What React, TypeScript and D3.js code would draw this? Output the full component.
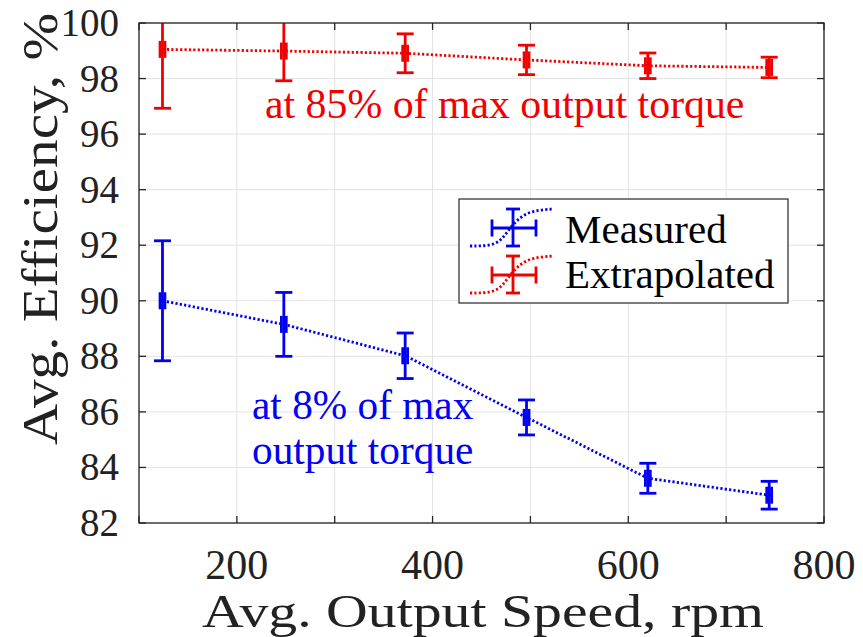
import React from "react";
import * as d3 from "d3";

const speeds = [124, 248, 372, 496, 620, 744];
const speedErr = [2.5, 2.5, 2.5, 2.5, 2.5, 2.5];
const measuredEff = [90.0, 89.15, 88.02, 85.8, 83.61, 83.0];
const measuredErr = [2.16, 1.15, 0.82, 0.63, 0.54, 0.5];
const extrapolatedEff = [99.05, 98.99, 98.91, 98.67, 98.46, 98.4];
const extrapolatedErr = [2.12, 1.07, 0.7, 0.53, 0.46, 0.37];
const xTicks = [100, 200, 300, 400, 500, 600, 700, 800];
const xTickLabels = [200, 400, 600, 800];
const yTicks = [82, 84, 86, 88, 90, 92, 94, 96, 98, 100];
const seriesNames = ["Measured", "Extrapolated"];

const W = 863, H = 637;
const L = 139, R = 824, T = 23, B = 523;
const BLUE = "#0000f5";
const RED = "#f20000";
const AX = "#262626";
const GRID = "#e3e3e3";
const FONT = "Liberation Serif";

function T2(props: any) {
  const { children, ...rest } = props;
  return (
    <text {...rest} style={{ fontFamily: FONT }}>
      {children}
    </text>
  );
}

export default function App() {
  const x = d3.scaleLinear().domain([100, 800]).range([L, R]);
  const y = d3.scaleLinear().domain([82, 100]).range([B, T]);
  const line = d3.line<number>().x((_, i) => x(speeds[i])).y((d) => y(d));

  const series = [
    { vals: measuredEff, err: measuredErr, color: BLUE },
    { vals: extrapolatedEff, err: extrapolatedErr, color: RED },
  ];
  const capW = 8.5;
  const hCapH = 8.5;
  const sw = 2.8;

  const legendIcon = (cx: number, cy: number, color: string) => {
    const curve = d3.line().curve(d3.curveBasis)([
      [cx - 43, cy + 18],
      [cx - 15, cy + 18],
      [cx - 5, cy + 2],
      [cx + 12, cy - 17],
      [cx + 40, cy - 19],
    ] as [number, number][]);
    return (
      <g>
        <path d={curve || ""} fill="none" stroke={color} strokeWidth={sw} strokeDasharray="2.2 2.2" />
        <line x1={cx} x2={cx} y1={cy - 19} y2={cy + 18} stroke={color} strokeWidth={sw} />
        <line x1={cx - 7} x2={cx + 7} y1={cy - 19} y2={cy - 19} stroke={color} strokeWidth={sw} />
        <line x1={cx - 7} x2={cx + 7} y1={cy + 18} y2={cy + 18} stroke={color} strokeWidth={sw} />
        <line x1={cx - 21} x2={cx + 23} y1={cy} y2={cy} stroke={color} strokeWidth={sw} />
        <line x1={cx - 21} x2={cx - 21} y1={cy - 8.5} y2={cy + 8.5} stroke={color} strokeWidth={sw} />
        <line x1={cx + 23} x2={cx + 23} y1={cy - 8.5} y2={cy + 8.5} stroke={color} strokeWidth={sw} />
      </g>
    );
  };

  return (
    <div style={{ position: "absolute", left: 0, top: 0, width: W, height: H, background: "#fff" }}>
      <svg width={W} height={H}>
        <defs>
          <clipPath id="plotClip">
            <rect x={L} y={T} width={R - L} height={B - T} />
          </clipPath>
        </defs>
        <rect x={0} y={0} width={W} height={H} fill="#fff" />
        {xTicks.map((t) => (
          <line key={"gx" + t} x1={x(t)} x2={x(t)} y1={T} y2={B} stroke={GRID} strokeWidth={1} />
        ))}
        {yTicks.map((t) => (
          <line key={"gy" + t} x1={L} x2={R} y1={y(t)} y2={y(t)} stroke={GRID} strokeWidth={1} />
        ))}
        <g clipPath="url(#plotClip)">
          {series.map((s, si) => (
            <g key={si}>
              <path d={line(s.vals) || ""} fill="none" stroke={s.color} strokeWidth={sw} strokeDasharray="2.2 2.2" />
              {s.vals.map((v, i) => {
                const cx = x(speeds[i]);
                const cy = y(v);
                const y1 = y(v + s.err[i]);
                const y2 = y(v - s.err[i]);
                const xa = x(speeds[i] - speedErr[i]);
                const xb = x(speeds[i] + speedErr[i]);
                return (
                  <g key={i} stroke={s.color} strokeWidth={sw}>
                    <line x1={cx} x2={cx} y1={y1} y2={y2} />
                    <line x1={cx - capW} x2={cx + capW} y1={y1} y2={y1} />
                    <line x1={cx - capW} x2={cx + capW} y1={y2} y2={y2} />
                    <line x1={xa} x2={xb} y1={cy} y2={cy} />
                    <line x1={xa} x2={xa} y1={cy - hCapH} y2={cy + hCapH} />
                    <line x1={xb} x2={xb} y1={cy - hCapH} y2={cy + hCapH} />
                  </g>
                );
              })}
            </g>
          ))}
        </g>
        <rect x={L} y={T} width={R - L} height={B - T} fill="none" stroke={AX} strokeWidth={1.3} />
        {xTicks.map((t) => (
          <g key={"tx" + t} stroke={AX} strokeWidth={1.3}>
            <line x1={x(t)} x2={x(t)} y1={B} y2={B - 7} />
            <line x1={x(t)} x2={x(t)} y1={T} y2={T + 7} />
          </g>
        ))}
        {yTicks.map((t) => (
          <g key={"ty" + t} stroke={AX} strokeWidth={1.3}>
            <line x1={L} x2={L + 7} y1={y(t)} y2={y(t)} />
            <line x1={R} x2={R - 7} y1={y(t)} y2={y(t)} />
          </g>
        ))}
        {yTicks.map((t) => (
          <T2 key={"ly" + t} x={119} y={y(t) + 13} textAnchor="end" fontSize={39} fill="#222">
            {String(t)}
          </T2>
        ))}
        {xTickLabels.map((t) => (
          <T2 key={"lx" + t} x={x(t)} y={579} textAnchor="middle" fontSize={42} fill="#222">
            {String(t)}
          </T2>
        ))}
        <T2 x={202} y={627} fontSize={47} fill="#222" textLength={562} lengthAdjust="spacingAndGlyphs">
          Avg. Output Speed, rpm
        </T2>
        <T2 transform="translate(57,445) rotate(-90)" fontSize={50} fill="#222" textLength={432} lengthAdjust="spacingAndGlyphs">
          Avg. Efficiency, %
        </T2>
        <T2 x={265} y={118} fontSize={41.8} fill={RED}>
          at 85% of max output torque
        </T2>
        <T2 x={252} y={419} fontSize={41.3} fill={BLUE}>
          at 8% of max
        </T2>
        <T2 x={252} y={464} fontSize={41.3} fill={BLUE}>
          output torque
        </T2>
        <rect x={459} y={199} width={329} height={104} fill="#fff" stroke={AX} strokeWidth={1.2} />
        {legendIcon(513, 228, BLUE)}
        {legendIcon(513, 275, RED)}
        <T2 x={565} y={243} fontSize={41} fill="#000">
          {seriesNames[0]}
        </T2>
        <T2 x={565} y={288} fontSize={41} fill="#000">
          {seriesNames[1]}
        </T2>
      </svg>
    </div>
  );
}
